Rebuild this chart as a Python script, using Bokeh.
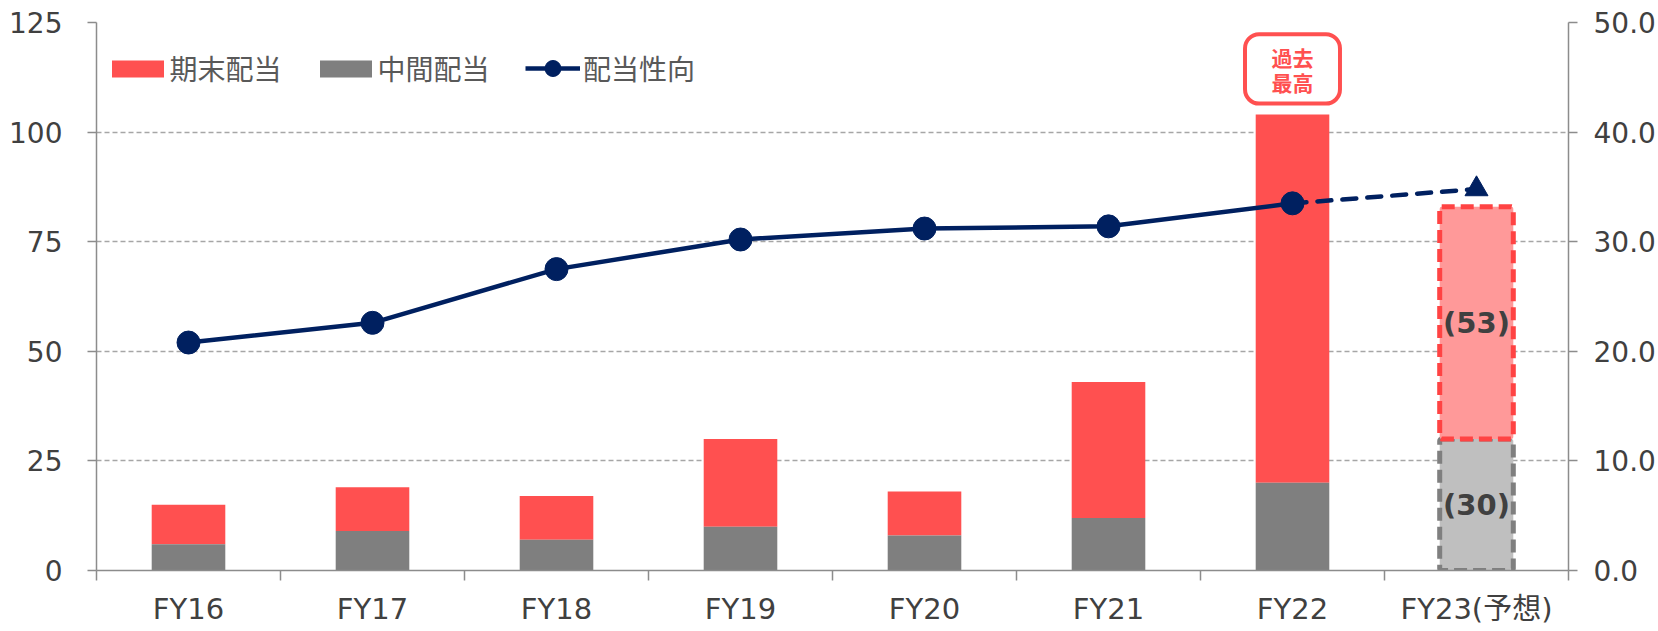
from bokeh.plotting import figure
from bokeh.models import (Range1d, LinearAxis, FixedTicker, PrintfTickFormatter,
                          Legend, LegendItem, ColumnDataSource)
from bokeh.core.properties import value
from bokeh.embed import file_html
from bokeh.resources import INLINE

# ---------------- data ----------------
categories = ["FY16", "FY17", "FY18", "FY19", "FY20", "FY21", "FY22", "FY23(予想)"]
interim = [6, 9, 7, 10, 8, 12, 20, 30]          # 中間配当
final = [9, 10, 10, 20, 10, 31, 84, 53]         # 期末配当
payout = [20.8, 22.6, 27.5, 30.2, 31.2, 31.4, 33.5, 34.8]  # 配当性向 (%)
left_ticks = [0, 25, 50, 75, 100, 125]
right_ticks = [0, 10, 20, 30, 40, 50]
n_actual = 7
badge_text = ["過去", "最高"]
forecast_labels = ["(30)", "(53)"]

# ---------------- style ----------------
RED = "#FF5050"
GREY = "#7F7F7F"
NAVY = "#002060"
PINK = "#FF9999"
LGREY = "#BFBFBF"
AXIS = "#8C8C8C"
TXT = "#404040"
LATIN = "DejaVu Sans, Noto Sans CJK JP"
CJK = "Noto Sans CJK JP"

xs = [i + 0.5 for i in range(len(categories))]
totals = [a + b for a, b in zip(interim, final)]

p = figure(width=1658, height=631, x_range=Range1d(0, len(categories)),
           y_range=Range1d(0, 125), output_backend="svg", toolbar_location=None,
           min_border_left=96, min_border_right=89, min_border_top=22,
           min_border_bottom=61)
p.extra_y_ranges = {"ratio": Range1d(0, 50)}
p.outline_line_color = None
p.background_fill_color = "white"

# grid
p.xgrid.visible = False
p.ygrid.grid_line_color = "#A6A6A6"
p.ygrid.grid_line_dash = "5 3"
p.ygrid.grid_line_width = 1.3

# x axis
xa = p.xaxis[0]
xa.ticker = FixedTicker(ticks=xs, minor_ticks=list(range(0, len(categories) + 1)))
xa.major_label_overrides = {x: c for x, c in zip(xs, categories)}
xa.major_tick_line_color = None
xa.major_tick_out = 10
xa.major_tick_in = 0
xa.minor_tick_line_color = AXIS
xa.minor_tick_line_width = 1.5
xa.minor_tick_out = 10
xa.minor_tick_in = 0
xa.axis_line_color = AXIS
xa.axis_line_width = 1.5
xa.major_label_standoff = 11
xa.major_label_text_font = LATIN
xa.major_label_text_font_size = "29px"
xa.major_label_text_color = TXT

# left axis
ya = p.yaxis[0]
ya.ticker = FixedTicker(ticks=left_ticks, minor_ticks=[])
ya.axis_line_color = AXIS
ya.axis_line_width = 1.5
ya.major_tick_line_color = AXIS
ya.major_tick_line_width = 1.5
ya.major_tick_out = 9
ya.major_tick_in = 0
ya.minor_tick_line_color = None
ya.major_label_standoff = 25
ya.major_label_text_font = LATIN
ya.major_label_text_font_size = "28px"
ya.major_label_text_color = TXT

# right axis
ra = LinearAxis(y_range_name="ratio", ticker=FixedTicker(ticks=right_ticks, minor_ticks=[]),
                formatter=PrintfTickFormatter(format="%.1f"))
ra.axis_line_color = AXIS
ra.axis_line_width = 1.5
ra.major_tick_line_color = AXIS
ra.major_tick_line_width = 1.5
ra.major_tick_out = 9
ra.major_tick_in = 0
ra.minor_tick_line_color = None
ra.major_label_standoff = 16
ra.major_label_text_font = LATIN
ra.major_label_text_font_size = "28px"
ra.major_label_text_color = TXT
p.add_layout(ra, "right")

# ---------------- bars ----------------
n = n_actual
src_a = ColumnDataSource(dict(x=xs[:n], interim=interim[:n], total=totals[:n]))
r_final = p.vbar(x="x", width=0.4, bottom="interim", top="total", source=src_a,
                 fill_color=RED, line_color=None)
r_int = p.vbar(x="x", width=0.4, bottom=0, top="interim", source=src_a,
               fill_color=GREY, line_color=None)

src_f = ColumnDataSource(dict(
    x=xs[n:], interim=interim[n:], total=totals[n:],
    mid_i=[v / 2 for v in interim[n:]],
    mid_f=[(a + b) / 2 for a, b in zip(interim[n:], totals[n:])],
    lab_i=[forecast_labels[0]], lab_f=[forecast_labels[1]]))
p.vbar(x="x", width=0.4, bottom=0, top="interim", source=src_f,
       fill_color=LGREY, line_color=GREY, line_width=5, line_dash="13 6",
       border_radius=2)
p.vbar(x="x", width=0.4, bottom="interim", top="total", source=src_f,
       fill_color=PINK, line_color="#FF4343", line_width=5, line_dash="13 6",
       border_radius=2)
for ycol, tcol in (("mid_i", "lab_i"), ("mid_f", "lab_f")):
    p.text(x="x", y=ycol, text=tcol, source=src_f, text_font=value("DejaVu Sans"),
           text_font_style="bold", text_font_size="29px", text_color=TXT,
           text_align="center", text_baseline="middle")

# ---------------- payout ratio line ----------------
src_l = ColumnDataSource(dict(x=xs[:n], y=payout[:n]))
src_d = ColumnDataSource(dict(x=xs[n - 1:], y=payout[n - 1:]))
src_t = ColumnDataSource(dict(x=xs[n:], y=payout[n:]))
p.line("x", "y", source=src_d, y_range_name="ratio", line_color=NAVY,
       line_width=4.5, line_dash="14 11", line_cap="round")
r_line = p.line("x", "y", source=src_l, y_range_name="ratio", line_color=NAVY,
                line_width=4.5)
r_dot = p.scatter("x", "y", source=src_l, y_range_name="ratio", marker="circle",
                  size=23, fill_color=NAVY, line_color=NAVY)
p.scatter("x", "y", source=src_t, y_range_name="ratio", marker="triangle",
          size=23, fill_color=NAVY, line_color=NAVY)

# ---------------- record-high badge ----------------
bx = xs[n - 1]
btop = totals[n - 1]
p.quad(left=[bx - 0.258], right=[bx + 0.258], bottom=[btop + 2.5], top=[btop + 18.3],
       fill_color="white", line_color=RED, line_width=4, border_radius=14)
by = btop + 10.4
p.text(x=[bx, bx], y=[by, by], text=badge_text, y_offset=[-12, 13],
       text_font=value(CJK), text_font_style="bold", text_font_size="21px",
       text_color=RED, text_align="center", text_baseline="middle")

# ---------------- legends ----------------
legA = Legend(items=[LegendItem(label="期末配当", renderers=[r_final]),
                     LegendItem(label="中間配当", renderers=[r_int])],
              orientation="horizontal", location=(8.5, 482),
              glyph_width=65, glyph_height=21, label_standoff=0, spacing=31,
              padding=0, margin=0, border_line_color=None,
              background_fill_alpha=0, label_text_font=CJK,
              label_text_font_size="28px", label_text_color="#595959",
              label_height=40)
legB = Legend(items=[LegendItem(label="配当性向", renderers=[r_line, r_dot])],
              orientation="horizontal", location=(429, 482),
              glyph_width=55, glyph_height=40, label_standoff=3, spacing=0,
              padding=0, margin=0, border_line_color=None,
              background_fill_alpha=0, label_text_font=CJK,
              label_text_font_size="28px", label_text_color="#595959",
              label_height=40)
p.add_layout(legA)
p.add_layout(legB)

open("out.html", "w").write(file_html(p, INLINE))
